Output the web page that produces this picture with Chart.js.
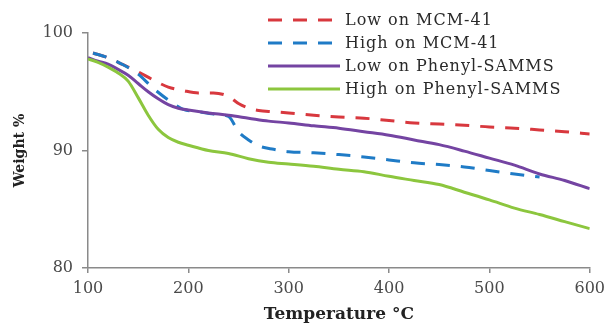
<!DOCTYPE html>
<html>
<head>
<meta charset="utf-8">
<script src="https://cdn.jsdelivr.net/npm/chart.js@4"></script>
<style>
  body { margin: 0; background: #fff; }
  #wrap { width: 611px; height: 326px; position: relative; }
</style>
</head>
<body>
<div id="wrap"><canvas id="tgaChart"></canvas></div>
<script>
/* DATA */

const tempMcm = [105, 120, 135, 150, 165, 180, 195, 210, 225, 240, 250, 260, 270, 285, 300,
    325, 350, 375, 400, 425, 450, 475, 500, 525, 550, 575, 600];
const lowMcm = [98.3, 97.9, 97.3, 96.7, 96.0, 95.4, 95.1, 94.9, 94.9, 94.6, 94.0, 93.6, 93.4, 93.3, 93.2,
    93.0, 92.85, 92.75, 92.55, 92.35, 92.25, 92.15, 92.0, 91.9, 91.75, 91.6, 91.4];
const highMcm = [98.3, 97.9, 97.3, 96.5, 95.3, 94.3, 93.5, 93.3, 93.1, 92.9, 91.6, 90.9, 90.4, 90.1, 89.9,
    89.8, 89.65, 89.45, 89.2, 88.95, 88.8, 88.6, 88.3, 88.0, 87.75, null, null];

const tempSamms = [100, 110, 120, 130, 140, 150, 160, 170, 180, 190, 200, 220, 240, 260, 280, 300,
    325, 350, 375, 400, 425, 450, 475, 500, 525, 550, 575, 600];
const lowSamms = [97.9, 97.6, 97.35, 96.9, 96.4, 95.7, 95.0, 94.4, 93.9, 93.6, 93.45, 93.2, 93.0, 92.75, 92.5, 92.35,
    92.1, 91.9, 91.6, 91.3, 90.9, 90.5, 89.95, 89.35, 88.75, 88.0, 87.45, 86.75];
const highSamms = [97.8, 97.5, 97.1, 96.6, 95.9, 94.5, 93.0, 91.8, 91.1, 90.7, 90.45, 90.0, 89.75, 89.3, 89.0, 88.85,
    88.65, 88.4, 88.2, 87.8, 87.45, 87.1, 86.45, 85.8, 85.1, 84.55, 83.95, 83.35];

const seriesNames = ["Low on MCM-41", "High on MCM-41", "Low on Phenyl-SAMMS", "High on Phenyl-SAMMS"];
const xTicks = [100, 200, 300, 400, 500, 600];
const yTicks = [80, 90, 100];

function pairs(xs, ys) {
    return xs.map((x, i) => ({x: x, y: ys[i]}));
}

/* Legend drawn inside the plot, top right */

const insideLegend = {
    id: "insideLegend",
    afterDraw(chart) {
        const c = chart.ctx;
        const sets = chart.data.datasets;
        c.save();
        c.font = "16px 'DejaVu Serif'";
        c.letterSpacing = "1px";
        c.textBaseline = "middle";
        c.fillStyle = "#2a2a2a";
        sets.forEach((ds, i) => {
            const y = 20 + i * 23;
            c.beginPath();
            c.strokeStyle = ds.borderColor;
            c.lineWidth = 3;
            c.setLineDash(ds.borderDash || []);
            c.moveTo(268, y);
            c.lineTo(340, y);
            c.stroke();
            c.setLineDash([]);
            c.fillText(ds.label, 345, y + 1);
        });
        c.restore();
    }
};

const ctx = document.getElementById("tgaChart");

new Chart(ctx, {
    type: "line",
    data: {
        datasets: [
            {label: seriesNames[0], data: pairs(tempMcm, lowMcm), borderColor: "#d8383e", borderDash: [14, 11], order: 4},
            {label: seriesNames[1], data: pairs(tempMcm, highMcm), borderColor: "#1f7bc6", borderDash: [14, 11], order: 3},
            {label: seriesNames[2], data: pairs(tempSamms, lowSamms), borderColor: "#7444a2", order: 2},
            {label: seriesNames[3], data: pairs(tempSamms, highSamms), borderColor: "#8cc63e", order: 1}
        ]
    },
    options: {
        responsive: true,
        maintainAspectRatio: false,
        animation: false,
        layout: {padding: {top: 33, right: 17, left: 0, bottom: 0}},
        elements: {
            point: {radius: 0},
            line: {borderWidth: 3, cubicInterpolationMode: "monotone", fill: false}
        },
        plugins: {
            legend: {display: false},
            tooltip: {enabled: false}
        },
        scales: {
            x: {
                type: "linear",
                min: 100,
                max: 600,
                afterBuildTicks: (s) => { s.ticks = xTicks.map(v => ({value: v})); },
                afterFit: (s) => { s.height = 58; },
                grid: {drawOnChartArea: false, color: "#8a8a8a", tickLength: 5, lineWidth: 1.5},
                border: {color: "#8a8a8a", width: 1.5},
                ticks: {color: "#4a4a4a", padding: 6, font: {family: "'DejaVu Serif'", size: 16}},
                title: {display: true, text: "Temperature °C", color: "#222",
                    font: {family: "'DejaVu Serif'", size: 17, weight: "bold"}, padding: {top: 0, bottom: 1}}
            },
            y: {
                min: 80,
                max: 100,
                afterBuildTicks: (s) => { s.ticks = yTicks.map(v => ({value: v})); },
                afterFit: (s) => { s.width = 88; },
                grid: {drawOnChartArea: false, color: "#8a8a8a", tickLength: 6, lineWidth: 1.5},
                border: {color: "#8a8a8a", width: 1.5},
                ticks: {color: "#4a4a4a", padding: 9, font: {family: "'DejaVu Serif'", size: 16}},
                title: {display: true, text: "Weight %", color: "#222",
                    font: {family: "'DejaVu Serif'", size: 14, weight: "bold"}, padding: {top: 12, bottom: 0}}
            }
        }
    },
    plugins: [insideLegend]
});
</script>
</body>
</html>
